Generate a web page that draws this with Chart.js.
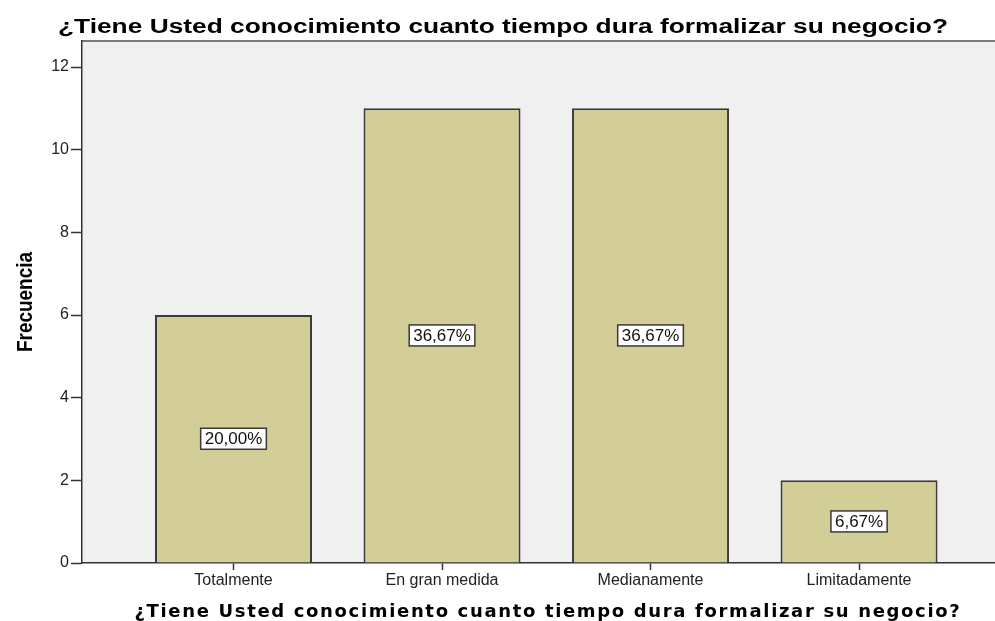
<!DOCTYPE html>
<html>
<head>
<meta charset="utf-8">
<script src="https://cdn.jsdelivr.net/npm/chart.js@4.4.1/dist/chart.umd.min.js"></script>
<style>
  html, body { margin: 0; padding: 0; background: #ffffff; overflow: hidden; }
  #wrap { width: 995px; height: 621px; position: relative; }
</style>
</head>
<body>
<div id="wrap"><canvas id="c" width="995" height="621"></canvas></div>
<script>
// ---- data ----
const categories = ['Totalmente', 'En gran medida', 'Medianamente', 'Limitadamente'];
const frequencies = [6, 11, 11, 2];
const percentLabels = ['20,00%', '36,67%', '36,67%', '6,67%'];
const yTicks = [0, 2, 4, 6, 8, 10, 12];
const chartTitle = '¿Tiene Usted conocimiento cuanto tiempo dura formalizar su negocio?';
const xAxisTitle = '¿Tiene Usted conocimiento cuanto tiempo dura formalizar su negocio?';
const yAxisTitle = 'Frecuencia';

const BAR_FILL = '#d3cd98';
const BAR_EDGE = '#3c3c3c';
const AXIS_COLOR = '#333333';

const bgPlugin = {
  id: 'bg',
  beforeDraw(chart) {
    const { ctx, chartArea: a } = chart;
    ctx.save();
    ctx.fillStyle = '#f0f0f0';
    ctx.fillRect(a.left, a.top, a.right - a.left, a.bottom - a.top);
    ctx.strokeStyle = '#7a7a7a';
    ctx.lineWidth = 2;
    ctx.beginPath();
    ctx.moveTo(a.left, a.top);
    ctx.lineTo(a.right, a.top);
    ctx.stroke();
    ctx.restore();
  }
};

const labelPlugin = {
  id: 'barLabels',
  afterDatasetsDraw(chart) {
    const { ctx } = chart;
    const meta = chart.getDatasetMeta(0);
    ctx.save();
    ctx.font = '17px "Liberation Sans", Arial, sans-serif';
    ctx.textAlign = 'center';
    ctx.textBaseline = 'middle';
    meta.data.forEach((bar, i) => {
      const txt = percentLabels[i];
      const cx = bar.x;
      const cy = (bar.y + bar.base) / 2;
      const w = ctx.measureText(txt).width + 8;
      const h = 21;
      ctx.fillStyle = '#ffffff';
      ctx.fillRect(cx - w / 2, cy - h / 2, w, h);
      ctx.strokeStyle = '#3a3a3a';
      ctx.lineWidth = 1.5;
      ctx.strokeRect(cx - w / 2, cy - h / 2, w, h);
      ctx.fillStyle = '#111111';
      ctx.fillText(txt, cx, cy + 1);
    });
    ctx.restore();
  }
};

function spacedText(ctx, text, font, x, y, targetWidth, align) {
  ctx.font = font;
  ctx.letterSpacing = '0px';
  const w = ctx.measureText(text).width;
  const sp = (targetWidth - w) / text.length;
  ctx.letterSpacing = sp.toFixed(2) + 'px';
  ctx.textAlign = 'left';
  const startX = align === 'center' ? x - targetWidth / 2 : x;
  ctx.fillText(text, startX, y);
  ctx.letterSpacing = '0px';
}

function stretchedText(ctx, text, font, x, y, targetWidth) {
  ctx.save();
  ctx.font = font;
  ctx.letterSpacing = '0px';
  const w = ctx.measureText(text).width;
  ctx.translate(x, y);
  ctx.scale(targetWidth / w, 1);
  ctx.textAlign = 'left';
  ctx.fillText(text, 0, 0);
  ctx.restore();
}

const titlePlugin = {
  id: 'titles',
  afterDraw(chart) {
    const { ctx, chartArea: a } = chart;
    ctx.save();
    ctx.fillStyle = '#000000';
    ctx.textBaseline = 'alphabetic';
    // top title
    stretchedText(ctx, chartTitle, 'bold 20px "Liberation Sans", Arial, sans-serif', a.left - 24, 33, 890);
    // bottom axis title
    spacedText(ctx, xAxisTitle, 'bold 18px "DejaVu Sans", Verdana, sans-serif', 548, 617, 827, 'center');
    // y axis title
    ctx.font = 'bold 22px "Liberation Sans Narrow", "Arial Narrow", "Liberation Sans", sans-serif';
    const yw = ctx.measureText(yAxisTitle).width;
    const sx = 100 / yw;
    ctx.translate(32, (a.top + a.bottom) / 2);
    ctx.rotate(-Math.PI / 2);
    ctx.scale(sx, 1);
    ctx.textAlign = 'center';
    ctx.fillText(yAxisTitle, 0, 0);
    ctx.restore();
  }
};

new Chart(document.getElementById('c'), {
  type: 'bar',
  data: {
    datasets: [{
      data: categories.map((c, i) => ({ x: i, y: frequencies[i] })),
      backgroundColor: BAR_FILL,
      borderColor: BAR_EDGE,
      borderWidth: 2,
      borderSkipped: 'bottom',
      barPercentage: 0.753,
      categoryPercentage: 1.0
    }]
  },
  options: {
    responsive: false,
    animation: false,
    devicePixelRatio: 1,
    layout: { padding: { top: 41, left: 0, right: 0, bottom: 0 } },
    plugins: {
      legend: { display: false },
      tooltip: { enabled: false },
      title: { display: false }
    },
    scales: {
      x: {
        type: 'linear',
        offset: false,
        min: -0.7266,
        max: 3.652,
        afterBuildTicks(scale) { scale.ticks = categories.map((c, i) => ({ value: i })); },
        afterFit(scale) { scale.height = 58; },
        ticks: {
          callback: (v) => categories[v],
          color: '#222222',
          font: { family: '"Liberation Sans", Arial, sans-serif', size: 16 },
          padding: 1,
          maxRotation: 0,
          autoSkip: false
        },
        grid: { offset: false, drawOnChartArea: false, drawTicks: true, tickLength: 7, tickColor: AXIS_COLOR, tickWidth: 1.5 },
        border: { display: true, color: AXIS_COLOR, width: 1.5 }
      },
      y: {
        min: 0,
        max: 12.63,
        afterBuildTicks(scale) { scale.ticks = yTicks.map(v => ({ value: v })); },
        afterFit(scale) { scale.width = 82; },
        ticks: {
          color: '#222222',
          font: { family: '"Liberation Sans", Arial, sans-serif', size: 16 },
          padding: 2
        },
        grid: { drawOnChartArea: false, drawTicks: true, tickLength: 11, tickColor: AXIS_COLOR, tickWidth: 1.5 },
        border: { display: true, color: AXIS_COLOR, width: 1.5 }
      }
    }
  },
  plugins: [bgPlugin, labelPlugin, titlePlugin]
});
</script>
</body>
</html>
